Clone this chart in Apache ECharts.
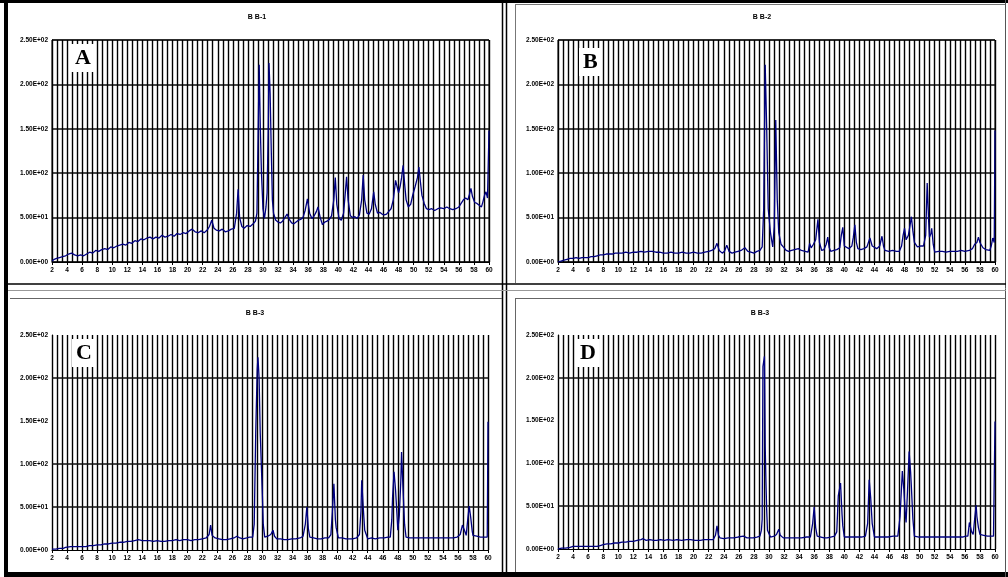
<!DOCTYPE html>
<html>
<head>
<meta charset="utf-8">
<script src="https://cdn.jsdelivr.net/npm/echarts@6/dist/echarts.min.js"></script>
<style>
html,body{margin:0;padding:0;background:#fff;}
#chart{width:1008px;height:577px;}
</style>
</head>
<body>
<div id="chart"></div>
<script>
// ---- data ----
const panelTitles = ['B B-1', 'B B-2', 'B B-3', 'B B-3'];
const panelLetters = ['A', 'B', 'C', 'D'];
const yTickLabels = ['0.00E+00', '5.00E+01', '1.00E+02', '1.50E+02', '2.00E+02', '2.50E+02'];
const xTickLabels = ['2','4','6','8','10','12','14','16','18','20','22','24','26','28','30','32','34','36','38','40','42','44','46','48','50','52','54','56','58','60'];

const patternA = [[2.0,1],[2.3,3],[2.6,4],[3.0,5],[3.4,6],[3.8,7],[4.2,9],[4.6,10],[5.0,8],[5.4,7],[5.8,8],[6.2,7],[6.6,9],[7.0,11],[7.4,10],[7.8,13],[8.2,12],[8.6,14],[9.0,15],[9.4,14],[9.8,17],[10.2,16],[10.6,18],[11.0,19],[11.4,20],[11.8,19],[12.2,22],[12.6,21],[13.0,24],[13.4,23],[13.8,26],[14.2,25],[14.6,27],[15.0,28],[15.4,26],[15.8,28],[16.2,27],[16.6,30],[17.0,28],[17.4,29],[17.8,31],[18.2,29],[18.6,32],[19.0,31],[19.4,33],[19.8,32],[20.2,35],[20.6,37],[21.0,34],[21.4,33],[21.8,35],[22.2,33],[22.6,36],[22.9,40],[23.2,47],[23.5,38],[23.8,36],[24.2,35],[24.6,37],[25.0,34],[25.4,35],[25.8,37],[26.2,38],[26.5,55],[26.7,82],[26.9,50],[27.2,40],[27.5,38],[27.9,41],[28.3,40],[28.7,43],[29.0,46],[29.2,55],[29.35,140],[29.5,222],[29.65,150],[29.8,100],[30.0,60],[30.2,49],[30.4,62],[30.55,78],[30.7,150],[30.8,224],[30.95,190],[31.1,126],[31.25,70],[31.4,55],[31.7,47],[32.0,45],[32.3,44],[32.6,46],[32.9,50],[33.2,54],[33.5,48],[33.8,44],[34.1,43],[34.4,45],[34.7,47],[35.0,48],[35.3,50],[35.6,58],[35.9,71],[36.2,55],[36.5,49],[36.8,52],[37.1,57],[37.3,62],[37.6,50],[37.9,42],[38.2,45],[38.5,46],[38.8,48],[39.1,52],[39.4,70],[39.6,95],[39.8,65],[40.1,49],[40.4,47],[40.7,55],[40.9,75],[41.1,96],[41.3,70],[41.6,52],[41.9,50],[42.2,51],[42.5,49],[42.8,53],[43.1,70],[43.3,98],[43.5,70],[43.8,55],[44.1,54],[44.4,60],[44.7,79],[44.9,65],[45.2,55],[45.5,56],[45.8,54],[46.1,53],[46.4,54],[46.7,57],[47.0,60],[47.3,70],[47.6,92],[47.8,85],[48.0,78],[48.2,85],[48.4,95],[48.6,109],[48.8,88],[49.0,70],[49.3,62],[49.6,65],[49.9,76],[50.2,85],[50.5,95],[50.7,107],[50.9,90],[51.1,75],[51.4,66],[51.7,60],[52.0,59],[52.4,60],[52.8,58],[53.2,60],[53.6,61],[54.0,60],[54.4,62],[54.8,60],[55.2,59],[55.6,60],[56.0,62],[56.3,66],[56.6,70],[56.9,72],[57.2,70],[57.4,76],[57.6,83],[57.8,74],[58.1,67],[58.4,66],[58.7,64],[59.0,62],[59.2,68],[59.4,75],[59.6,79],[59.8,72],[59.95,70],[60.0,148]];

const patternB = [[2.0,0],[2.4,1],[2.8,2],[3.2,3],[3.6,4],[4.0,4],[4.4,5],[4.8,4],[5.2,5],[5.6,5],[6.0,5],[6.4,6],[6.8,6],[7.2,7],[7.6,8],[8.0,8],[8.4,9],[8.8,9],[9.2,9],[9.6,10],[10.0,10],[10.5,10],[11.0,11],[11.5,10],[12.0,11],[12.5,11],[13.0,12],[13.5,11],[14.0,12],[14.5,12],[15.0,11],[15.5,11],[16.0,10],[16.5,10],[17.0,11],[17.5,10],[18.0,10],[18.5,11],[19.0,10],[19.5,10],[20.0,11],[20.5,10],[21.0,10],[21.5,11],[22.0,12],[22.4,13],[22.8,15],[23.1,21],[23.4,13],[23.8,10],[24.1,12],[24.4,19],[24.7,12],[25.1,10],[25.5,11],[25.9,12],[26.3,13],[26.8,16],[27.2,12],[27.6,11],[28.0,10],[28.4,12],[28.8,13],[29.1,17],[29.3,60],[29.5,222],[29.7,150],[29.9,60],[30.2,33],[30.5,17],[30.7,40],[30.9,160],[31.1,70],[31.3,33],[31.6,20],[31.9,17],[32.3,13],[32.6,12],[33.0,13],[33.4,14],[33.9,15],[34.3,13],[34.8,12],[35.2,11],[35.4,21],[35.6,16],[35.9,20],[36.2,25],[36.5,48],[36.7,22],[37.0,13],[37.3,14],[37.6,20],[37.8,28],[38.0,16],[38.2,12],[38.6,13],[39.0,14],[39.4,16],[39.6,30],[39.8,39],[40.0,18],[40.2,16],[40.6,15],[41.0,18],[41.2,28],[41.4,42],[41.6,22],[41.8,15],[42.2,14],[42.6,15],[43.0,17],[43.4,27],[43.7,18],[43.9,16],[44.3,15],[44.7,18],[45.0,29],[45.2,18],[45.4,13],[45.9,12],[46.4,13],[46.9,12],[47.3,12],[47.6,18],[47.8,30],[48.0,38],[48.2,25],[48.5,30],[48.7,40],[48.9,51],[49.1,35],[49.3,22],[49.7,17],[50.1,18],[50.5,18],[50.8,30],[51.0,89],[51.2,45],[51.3,28],[51.5,32],[51.6,38],[51.8,20],[52.0,11],[52.5,12],[53.0,12],[53.5,11],[54.0,12],[54.5,12],[55.0,12],[55.5,13],[56.0,12],[56.6,13],[57.0,15],[57.3,20],[57.6,22],[57.8,28],[58.0,22],[58.4,16],[58.8,14],[59.3,13],[59.5,18],[59.7,27],[59.9,22],[60.0,148]];

const patternC = [[2.0,1],[2.5,1],[3.0,2],[3.5,2],[3.8,3],[4.0,4],[4.5,4],[5.0,4],[5.5,4],[6.0,4],[6.5,4],[7.0,5],[7.5,5],[8.0,6],[8.5,6],[9.0,7],[9.5,7],[10.0,8],[10.5,8],[11.0,9],[11.5,9],[12.0,10],[12.5,10],[13.0,11],[13.5,12],[14.0,11],[14.5,11],[15.0,11],[15.5,10],[16.0,11],[16.5,10],[17.0,10],[17.5,11],[18.0,11],[18.5,12],[19.0,11],[19.5,12],[20.0,12],[20.5,11],[21.0,12],[21.5,12],[22.0,13],[22.5,14],[22.9,18],[23.1,29],[23.3,17],[23.7,14],[24.2,13],[24.7,12],[25.2,12],[25.7,13],[26.2,14],[26.6,16],[27.0,14],[27.4,13],[27.9,14],[28.3,15],[28.7,15],[28.9,30],[29.1,136],[29.3,210],[29.4,224],[29.55,200],[29.7,136],[29.8,136],[29.9,136],[30.0,60],[30.1,30],[30.3,15],[30.7,16],[31.1,18],[31.4,23],[31.6,16],[31.9,13],[32.4,13],[32.9,12],[33.4,12],[33.9,13],[34.4,13],[35.0,14],[35.4,16],[35.7,30],[35.9,50],[36.1,25],[36.3,15],[36.8,14],[37.3,13],[37.8,13],[38.3,14],[38.8,14],[39.1,18],[39.3,45],[39.5,77],[39.7,35],[39.8,26],[40.1,14],[40.6,14],[41.1,13],[41.6,13],[42.0,13],[42.5,14],[42.9,18],[43.1,45],[43.2,81],[43.4,50],[43.6,23],[44.0,13],[44.5,14],[45.0,13],[45.6,14],[46.2,14],[46.7,15],[47.0,15],[47.2,35],[47.3,60],[47.5,91],[47.7,70],[47.9,40],[48.0,23],[48.2,40],[48.4,80],[48.5,114],[48.7,70],[48.9,30],[49.1,15],[49.6,14],[50.2,14],[50.9,14],[51.5,14],[52.1,14],[52.7,14],[53.3,14],[53.9,14],[54.5,14],[55.0,14],[55.4,14],[55.9,15],[56.3,18],[56.6,29],[56.9,22],[57.1,17],[57.3,35],[57.5,51],[57.7,38],[57.9,22],[58.0,17],[58.5,16],[59.0,15],[59.5,15],[59.9,15],[60.0,149]];

const patternD = [[2.0,0],[2.5,1],[3.0,1],[3.6,2],[4.0,3],[4.5,3],[5.0,3],[5.5,3],[6.0,3],[6.5,3],[7.2,3],[7.6,4],[8.0,5],[8.5,6],[9.0,6],[9.5,7],[10.0,7],[10.5,8],[11.0,8],[11.5,9],[12.0,9],[12.5,10],[13.0,11],[13.3,12],[13.7,10],[14.2,11],[14.7,10],[15.1,10],[15.6,11],[16.1,10],[16.6,11],[17.3,10],[17.8,11],[18.4,10],[19.1,11],[19.6,11],[20.2,10],[20.9,10],[21.4,11],[22.0,11],[22.6,11],[22.9,16],[23.1,27],[23.3,16],[23.5,13],[24.0,12],[24.6,13],[25.3,13],[25.9,14],[26.6,15],[27.1,13],[27.5,13],[27.9,13],[28.4,14],[28.8,15],[29.0,22],[29.1,35],[29.2,213],[29.4,225],[29.5,120],[29.6,78],[29.7,45],[29.8,22],[30.2,14],[30.7,15],[31.0,17],[31.3,23],[31.5,16],[31.9,13],[32.5,13],[33.1,13],[33.7,13],[34.3,13],[35.0,14],[35.5,14],[35.8,30],[36.0,49],[36.2,25],[36.4,15],[36.9,14],[37.3,13],[37.7,13],[38.2,14],[38.7,15],[39.0,20],[39.2,62],[39.5,77],[39.7,40],[39.8,27],[40.0,14],[40.5,14],[41.1,14],[41.8,14],[42.3,14],[42.8,15],[43.1,30],[43.3,81],[43.5,60],[43.7,30],[44.0,14],[44.6,14],[45.2,14],[45.8,14],[46.5,15],[47.1,15],[47.3,30],[47.4,38],[47.7,91],[47.9,70],[48.1,40],[48.2,31],[48.4,70],[48.6,114],[48.8,90],[48.9,73],[49.1,35],[49.3,15],[49.9,14],[50.5,14],[51.1,14],[51.8,14],[52.5,14],[53.2,14],[53.9,14],[54.5,14],[55.1,14],[55.7,14],[56.1,15],[56.4,15],[56.6,31],[56.9,20],[57.1,17],[57.3,35],[57.5,51],[57.6,38],[57.8,25],[58.0,17],[58.5,16],[59.0,15],[59.4,15],[59.8,15],[60.0,149]];

const patterns = [patternA, patternB, patternC, patternD];

// ---- layout ----
const grids = [
  {left: 52, top: 40, width: 437, height: 222},
  {left: 558, top: 40, width: 437, height: 222},
  {left: 52, top: 335, width: 436, height: 215},
  {left: 558, top: 335, width: 437, height: 214}
];
const titlePos = [[257, 17], [762, 17], [255, 313], [760, 313]];
const letterPos = [[71, 44], [579, 48], [72, 339], [576, 339]];

const gridColor = '#000';
const lbl = {fontSize: 6.5, fontWeight: 'bold', color: '#000', fontFamily: 'Liberation Sans'};

const option = {
  animation: false,
  backgroundColor: '#fff',
  grid: grids.map((g, i) => Object.assign({
    show: i < 2, borderColor: '#000', borderWidth: 1, backgroundColor: '#fff', containLabel: false
  }, g)),
  xAxis: grids.map((g, i) => ({
    type: 'value', gridIndex: i, min: 2, max: 60, interval: 2,
    axisLine: {show: true, lineStyle: {color: '#000', width: 1}},
    axisTick: {show: true, length: 3, lineStyle: {color: '#000'}},
    minorTick: {show: false, splitNumber: 3},
    axisLabel: Object.assign({margin: 5, formatter: v => xTickLabels[(v - 2) / 2] || ''}, lbl),
    splitLine: {show: true, lineStyle: {color: gridColor, width: 1.4}},
    minorSplitLine: {show: true, lineStyle: {color: gridColor, width: 1.4}}
  })),
  yAxis: grids.map((g, i) => ({
    type: 'value', gridIndex: i, min: 0, max: 250, interval: 50,
    axisLine: {show: true, lineStyle: {color: '#000', width: 1}},
    axisTick: {show: false},
    axisLabel: Object.assign({margin: 4, formatter: v => yTickLabels[v / 50]}, lbl),
    splitLine: {show: i < 2, lineStyle: {color: '#111', width: 1.6}}
  })),
  series: patterns.map((p, i) => ({
    type: 'line', xAxisIndex: i, yAxisIndex: i, data: p,
    showSymbol: false, symbol: 'none',
    lineStyle: {color: '#000080', width: 1.3},
    z: 5,
    markLine: i >= 2 ? {
      silent: true, symbol: 'none', label: {show: false},
      lineStyle: {color: '#111', width: 1.6, type: 'solid'},
      data: [{yAxis: 50}, {yAxis: 100}, {yAxis: 200}]
    } : undefined
  })),
  graphic: [
    // frame
    {type: 'rect', z: 200, shape: {x: 0, y: 0, width: 1008, height: 3}, style: {fill: '#000'}},
    {type: 'rect', z: 200, shape: {x: 4, y: 0, width: 4, height: 577}, style: {fill: '#000'}},
    {type: 'rect', z: 200, shape: {x: 4, y: 572, width: 1004, height: 5}, style: {fill: '#000'}},
    {type: 'line', z: 200, shape: {x1: 502.5, y1: 0, x2: 502.5, y2: 577}, style: {stroke: '#000', lineWidth: 1.5}},
    {type: 'line', z: 200, shape: {x1: 506.5, y1: 0, x2: 506.5, y2: 577}, style: {stroke: '#000', lineWidth: 1.5}},
    {type: 'line', z: 200, shape: {x1: 515.5, y1: 4.5, x2: 515.5, y2: 283}, style: {stroke: '#777', lineWidth: 1}},
    {type: 'line', z: 200, shape: {x1: 515, y1: 4.5, x2: 1005, y2: 4.5}, style: {stroke: '#777', lineWidth: 1}},
    {type: 'line', z: 200, shape: {x1: 1005.5, y1: 0, x2: 1005.5, y2: 577}, style: {stroke: '#555', lineWidth: 1}},
    {type: 'line', z: 200, shape: {x1: 8, y1: 284, x2: 1006, y2: 284}, style: {stroke: '#000', lineWidth: 1.5}},
    {type: 'line', z: 200, shape: {x1: 8, y1: 290.5, x2: 1006, y2: 290.5}, style: {stroke: '#999', lineWidth: 1}},
    {type: 'line', z: 200, shape: {x1: 10, y1: 298.5, x2: 502, y2: 298.5}, style: {stroke: '#666', lineWidth: 1}},
    {type: 'line', z: 200, shape: {x1: 515, y1: 298.5, x2: 1005, y2: 298.5}, style: {stroke: '#666', lineWidth: 1}},
    {type: 'line', z: 200, shape: {x1: 515.5, y1: 298, x2: 515.5, y2: 572}, style: {stroke: '#666', lineWidth: 1}}
  ].concat(titlePos.map((p, i) => ({
    type: 'text', z: 200, x: p[0], y: p[1],
    style: {text: panelTitles[i], font: 'bold 7px "Liberation Sans"', fill: '#000', align: 'center', verticalAlign: 'middle'}
  }))).concat(letterPos.map((p, i) => ({
    type: 'text', z: 200, x: p[0], y: p[1],
    style: {text: panelLetters[i], font: 'bold 22px "Liberation Serif"', fill: '#000',
      backgroundColor: '#fff', padding: [3, 4, 3, 4]}
  })))
};

const chart = echarts.init(document.getElementById('chart'), null, {renderer: 'canvas'});
chart.setOption(option);
</script>
</body>
</html>
